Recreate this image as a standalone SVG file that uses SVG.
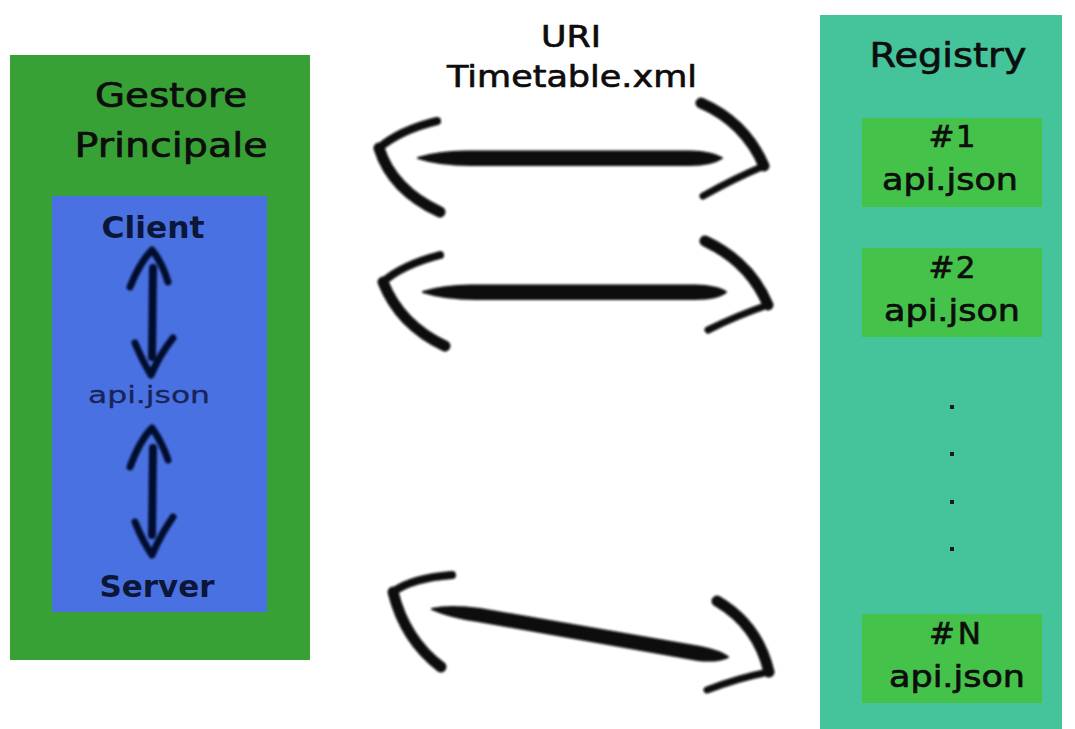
<svg xmlns="http://www.w3.org/2000/svg" width="1075" height="729" viewBox="0 0 1075 729">
  <defs>
    <filter id="soft" x="-10%" y="-10%" width="120%" height="120%">
      <feGaussianBlur stdDeviation="0.8"/>
    </filter>
  </defs>
  <style>
    text { font-family: "DejaVu Sans", "Liberation Sans", sans-serif; text-anchor: middle; stroke-linejoin: round; }
    .title { font-size: 34px; fill: #0d0d0d; stroke: #0d0d0d; stroke-width: 0.7px; }
    .label { font-size: 31px; fill: #0d0d0d; stroke: #0d0d0d; stroke-width: 0.7px; }
    .inner { font-size: 31px; font-weight: bold; fill: #0b1638; }
    .small { font-size: 23px; fill: #16245a; stroke: #16245a; stroke-width: 0.3px; }
    .stroke { fill: none; stroke: #0a0a0a; stroke-linecap: round; stroke-linejoin: round; }
    .istroke { fill: none; stroke: #06102e; stroke-linecap: round; stroke-linejoin: round; }
    .shaft { fill: #0a0a0a; stroke: #0a0a0a; stroke-width: 2; stroke-linejoin: round; }
    .dot { fill: #1a1a1a; }
  </style>
  <rect width="1075" height="729" fill="#ffffff"/>

  <!-- Main manager -->
  <g id="gestore">
    <rect x="10" y="55" width="300" height="605" fill="#38a136"/>
    <text class="title" x="171" y="107" textLength="152" lengthAdjust="spacingAndGlyphs">Gestore</text>
    <text class="title" x="171" y="157" textLength="193" lengthAdjust="spacingAndGlyphs">Principale</text>
  </g>

  <!-- Client / server pair -->
  <g id="client-server">
    <rect x="52" y="196" width="215" height="416" fill="#4a71e1"/>
    <text class="inner" x="153" y="238" textLength="103" lengthAdjust="spacingAndGlyphs">Client</text>
    <text class="small" x="149" y="403" textLength="122" lengthAdjust="spacingAndGlyphs">api.json</text>
    <text class="inner" x="157" y="597" textLength="115" lengthAdjust="spacingAndGlyphs">Server</text>
  </g>

  <!-- Registry -->
  <g id="registry">
    <rect x="820" y="15" width="242" height="714" fill="#45c49b"/>
    <text class="title" x="948" y="67" textLength="157" lengthAdjust="spacingAndGlyphs">Registry</text>
  </g>
  <g id="entry-1">
    <rect x="862" y="118" width="180" height="89" fill="#45c24a"/>
    <text class="label" x="952" y="147" textLength="47" lengthAdjust="spacing">#1</text>
    <text class="label" x="950" y="190" textLength="136" lengthAdjust="spacingAndGlyphs">api.json</text>
  </g>
  <g id="entry-2">
    <rect x="862" y="248" width="180" height="89" fill="#45c24a"/>
    <text class="label" x="952" y="278" textLength="47" lengthAdjust="spacing">#2</text>
    <text class="label" x="952" y="321" textLength="136" lengthAdjust="spacingAndGlyphs">api.json</text>
  </g>
  <g id="ellipsis">
    <rect class="dot" x="950" y="405" width="4" height="4"/>
    <rect class="dot" x="950" y="452" width="4" height="4"/>
    <rect class="dot" x="950" y="500" width="4" height="4"/>
    <rect class="dot" x="950" y="547" width="4" height="4"/>
  </g>
  <g id="entry-n">
    <rect x="862" y="614" width="180" height="89" fill="#45c24a"/>
    <text class="label" x="955" y="644" textLength="52" lengthAdjust="spacing">#N</text>
    <text class="label" x="957" y="687" textLength="136" lengthAdjust="spacingAndGlyphs">api.json</text>
  </g>

  <!-- Exchange label -->
  <g id="uri-label">
    <text class="label" x="571" y="47" textLength="60" lengthAdjust="spacingAndGlyphs">URI</text>
    <text class="label" x="572" y="87" textLength="250" lengthAdjust="spacingAndGlyphs">Timetable.xml</text>
  </g>

  <!-- Connectors -->
  <g id="connectors" filter="url(#soft)">
    <!-- client <-> api.json -->
    <path class="istroke" stroke-width="7" d="M130 287 Q140 262 152 250 Q162 262 168 282"/>
    <path class="istroke" stroke-width="8" d="M153 268 L152 357"/>
    <path class="istroke" stroke-width="7" d="M135 343 Q143 362 151 375 Q160 354 173 338"/>
    <!-- api.json <-> server -->
    <path class="istroke" stroke-width="7" d="M130 467 Q140 440 152 428 Q162 442 168 460"/>
    <path class="istroke" stroke-width="8" d="M153 448 L152 535"/>
    <path class="istroke" stroke-width="7" d="M135 522 Q143 542 152 555 Q161 534 173 517"/>

    <!-- gestore <-> #1 -->
    <path class="stroke" stroke-width="8" d="M437 121 Q400 130 379 148"/>
    <path class="stroke" stroke-width="11" d="M379 148 Q392 190 440 212"/>
    <path class="shaft" d="M418 158 Q440 151 470 151.5 L690 151.5 Q712 152 722 158 Q712 165 690 165 L470 165 Q440 165 418 158 Z"/>
    <path class="stroke" stroke-width="11" d="M701 103 Q745 122 764 166"/>
    <path class="stroke" stroke-width="7" d="M764 166 Q735 178 703 196"/>

    <!-- gestore <-> #2 -->
    <path class="stroke" stroke-width="8" d="M440 255 Q402 265 383 282"/>
    <path class="stroke" stroke-width="11" d="M383 282 Q400 325 445 346"/>
    <path class="shaft" d="M423 292 Q445 285 475 285.5 L695 285.5 Q717 286 726 292 Q717 299 695 299 L475 299 Q445 299 423 292 Z"/>
    <path class="stroke" stroke-width="11" d="M705 241 Q750 262 768 305"/>
    <path class="stroke" stroke-width="7" d="M768 305 Q738 315 708 330"/>

    <!-- gestore <-> #N -->
    <path class="stroke" stroke-width="8" d="M452 575 Q412 578 393 592"/>
    <path class="stroke" stroke-width="11" d="M393 592 Q405 640 441 667"/>
    <path class="shaft" d="M432 609 Q450 605 480 609 L700 647 Q720 651 728 657 Q718 662 698 660 L478 621 Q450 617 432 609 Z"/>
    <path class="stroke" stroke-width="11" d="M717 601 Q758 625 769 672"/>
    <path class="stroke" stroke-width="7" d="M769 672 Q738 678 707 690"/>
  </g>
</svg>
